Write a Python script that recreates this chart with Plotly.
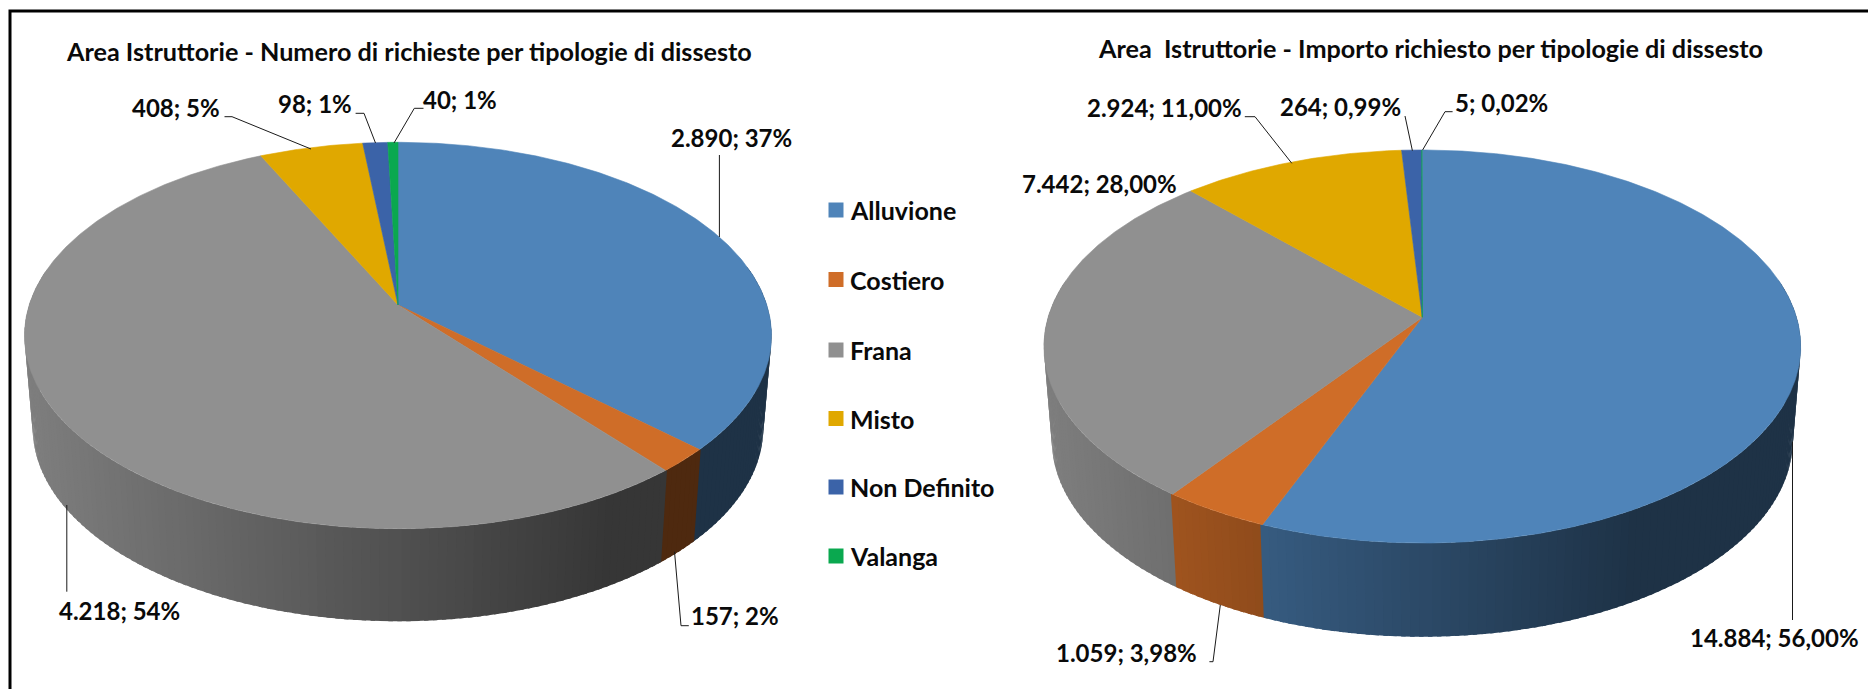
import math
import numpy as np
import plotly.graph_objects as go

# ---- data ----
categories = ["Alluvione", "Costiero", "Frana", "Misto", "Non Definito", "Valanga"]
counts = [2890, 157, 4218, 408, 98, 40]
count_pct = ["37%", "2%", "54%", "5%", "1%", "1%"]
amounts = [14884, 1059, 7442, 2924, 264, 5]
amount_pct = ["56,00%", "3,98%", "28,00%", "11,00%", "0,99%", "0,02%"]
title_left = "Area Istruttorie - Numero di richieste per tipologie di dissesto"
title_right = "Area  Istruttorie - Importo richiesto per tipologie di dissesto"
colors = ["#4f84b9", "#cf6d28", "#909090", "#e0a800", "#3b63a8", "#0aa84f"]

# ---- layout (canvas pixels) ----
W, H = 1868, 689
FONT = "Lato"
TXT = "#0a0a0a"
left_geo = dict(cx=398.0, cy=305.0, R=368.8, S=188.4, k=0.158, depth=92.5, shrink=0.978, rx=373.5)
right_geo = dict(cx=1422.3, cy=317.3, R=374.2, S=192.2, k=0.1486, depth=93.7, shrink=0.979, rx=378.4)

left_label_pos = [(731, 137), (735, 615), (119, 610), (176, 107), (315, 103), (460, 99)]
right_label_pos = [(1774, 637), (1126, 652), (1099, 183), (1164, 107), (1340, 106), (1501, 102)]
left_leaders = [
    [(719.4, 155), (719.4, 237)],
    [(674.5, 551.7), (681, 625.7), (688.8, 625.7)],
    [(66.8, 505), (66.8, 591.7)],
    [(224.5, 116.7), (232, 116.7), (311, 149)],
    [(355.6, 113.3), (364, 113.3), (375.5, 143)],
    [(423.5, 108.3), (414.3, 108.3), (394, 143)],
]
right_leaders = [
    [(1792.5, 441.7), (1792.5, 620)],
    [(1209.4, 661.7), (1213, 661.7), (1220.3, 605)],
    [],
    [(1244.8, 116.7), (1255, 116.7), (1291.8, 163.3)],
    [(1405, 116), (1412.4, 150.7)],
    [(1452.6, 111.7), (1445, 111.7), (1422.6, 150)],
]
legend_y = [210, 279.5, 350, 418.5, 487, 556]
legend_sq_x = 836
legend_txt_x = 848
LABEL_SIZE = 24
LEGEND_SIZE = 25
TITLE_SIZE = 25.2


def project(theta, g):
    """Perspective projection of a point on the pie rim (theta clockwise from top)."""
    sx, cy_ = np.sin(theta), np.cos(theta)
    w = 1 + g["k"] * cy_
    return g["cx"] + g["R"] * sx / w, g["cy"] - g["S"] * cy_ / w


def project_low(theta, g):
    x, y = project(theta, g)
    return g["cx"] + (x - g["cx"]) * g["shrink"], y + g["depth"]


def shade(hex_color, x, g):
    f = (x - g["cx"]) / g["rx"]
    s = float(np.clip(0.88 - 0.32 * (f + 1), 0.38, 0.88))
    r, gg, b = (int(hex_color[i:i + 2], 16) for i in (1, 3, 5))
    return f"rgb({int(r * s)},{int(gg * s)},{int(b * s)})"


def poly(xs, ys, color, name="", lw=0.6):
    return go.Scatter(x=list(xs), y=list(ys), mode="lines", fill="toself", fillcolor=color,
                      line=dict(color=color, width=lw), hoverinfo="skip" if not name else "text",
                      text=name, showlegend=False)


def draw_pie(fig, values, g):
    total = sum(values)
    edges = np.cumsum([0] + list(values)) / total * 2 * math.pi
    # side wall strips; each overlaps its neighbour slightly so no seams show
    step = math.radians(1.2)
    lap = math.radians(0.3)
    strips = []
    for i, (a0, a1) in enumerate(zip(edges[:-1], edges[1:])):
        n = max(1, int(math.ceil((a1 - a0) / step)))
        ts = np.linspace(a0, a1, n + 1)
        for t0, t1 in zip(ts[:-1], ts[1:]):
            if math.cos((t0 + t1) / 2) < 0.2:
                strips.append((i, t0, t1))
    strips.sort(key=lambda s: -math.cos((s[1] + s[2]) / 2))
    for i, t0, t1 in strips:
        ang = np.array([t0 - lap, t1 + lap])
        x0, y0 = project(ang, g)
        x1, y1 = project_low(ang[::-1], g)
        fig.add_trace(poly(np.r_[x0, x1], np.r_[y0, y1], shade(colors[i], x0.mean(), g), lw=0))
    # top slices
    for i, (a0, a1) in enumerate(zip(edges[:-1], edges[1:])):
        ts = np.linspace(a0, a1, max(2, int((a1 - a0) / math.radians(0.5)) + 2))
        x, y = project(ts, g)
        fig.add_trace(poly(np.r_[g["cx"], x, g["cx"]], np.r_[g["cy"], y, g["cy"]], colors[i],
                           f"{categories[i]}: {values[i]}"))


def it_num(v):
    return f"{v:,}".replace(",", ".")


fig = go.Figure()
draw_pie(fig, counts, left_geo)
draw_pie(fig, amounts, right_geo)

for leaders in (left_leaders, right_leaders):
    for pts in leaders:
        if pts:
            fig.add_trace(go.Scatter(x=[p[0] for p in pts], y=[p[1] for p in pts], mode="lines",
                                     line=dict(color="#1a1a1a", width=1), hoverinfo="skip", showlegend=False))

# legend drawn with markers and text
fig.add_trace(go.Scatter(x=[legend_sq_x] * len(categories), y=legend_y, mode="markers",
                         marker=dict(symbol="square", size=15, color=colors), hoverinfo="skip", showlegend=False))

anns = []
for vals, pcts, pos in ((counts, count_pct, left_label_pos), (amounts, amount_pct, right_label_pos)):
    for v, p, (x, y) in zip(vals, pcts, pos):
        anns.append(dict(x=x, y=y, text=f"<b>{it_num(v)}; {p}</b>", showarrow=False, xanchor="center", yanchor="middle",
                         font=dict(family=FONT, size=LABEL_SIZE, color=TXT)))
for c, y in zip(categories, legend_y):
    anns.append(dict(x=legend_txt_x, y=y, text=f"<b>{c}</b>", showarrow=False, xanchor="left", yanchor="middle",
                     font=dict(family=FONT, size=LEGEND_SIZE, color=TXT)))
anns.append(dict(x=409, y=50.5, text=f"<b>{title_left}</b>", showarrow=False, xanchor="center", yanchor="middle",
                 font=dict(family=FONT, size=TITLE_SIZE, color=TXT)))
anns.append(dict(x=1430.5, y=47.5, text=f"<b>{title_right}</b>", showarrow=False, xanchor="center", yanchor="middle",
                 font=dict(family=FONT, size=TITLE_SIZE, color=TXT)))

frame = dict(type="path", xref="x", yref="y", path=f"M 10 {H} L 10 11 L {W} 11",
             line=dict(color="#000000", width=3), layer="above")

fig.update_layout(width=W, height=H, margin=dict(l=0, r=0, t=0, b=0), paper_bgcolor="white", plot_bgcolor="white",
                  showlegend=False, annotations=anns, shapes=[frame], hovermode="closest",
                  xaxis=dict(visible=False, range=[0, W], fixedrange=True),
                  yaxis=dict(visible=False, range=[H, 0], fixedrange=True))
fig.write_html("out.html", config={"displayModeBar": False},
               post_script="document.body.style.margin='0';document.documentElement.style.overflow='hidden';")
